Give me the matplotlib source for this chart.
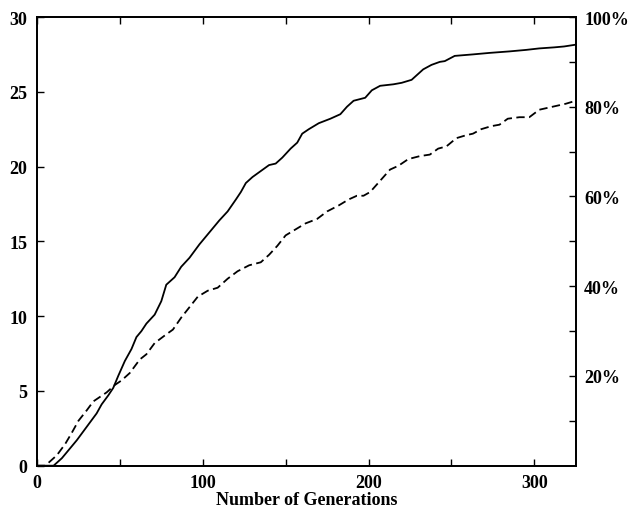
import matplotlib.pyplot as plt

plt.rcParams['font.family'] = ['Liberation Serif', 'DejaVu Serif']
plt.rcParams['font.weight'] = 'bold'
plt.rcParams['lines.scale_dashes'] = False

# solid curve
gen_solid = [0, 10, 12, 15, 18, 21, 24, 28, 32, 36, 39, 43, 46, 49, 53, 57, 60, 63, 66,
             71, 75, 78, 83, 87, 92, 98, 104, 110, 115, 120, 123, 126, 130, 135, 140, 144,
             148, 153, 157, 160, 164, 170, 177, 183, 187, 191, 198, 202, 207, 215, 220,
             226, 230, 233, 238, 243, 246, 252, 263, 273, 285, 295, 303, 312, 318, 325]
val_solid = [0, 0, 0.2, 0.5, 0.9, 1.3, 1.7, 2.3, 2.9, 3.5, 4.1, 4.7, 5.2, 6.0, 7.0, 7.8,
             8.6, 9.0, 9.5, 10.1, 11.0, 12.1, 12.6, 13.3, 13.9, 14.8, 15.6, 16.4, 17.0,
             17.8, 18.3, 18.9, 19.3, 19.7, 20.1, 20.2, 20.6, 21.2, 21.6, 22.2, 22.5, 22.9,
             23.2, 23.5, 24.0, 24.4, 24.6, 25.1, 25.4, 25.5, 25.6, 25.8, 26.2, 26.5, 26.8,
             27.0, 27.05, 27.4, 27.5, 27.6, 27.7, 27.8, 27.9, 27.97, 28.03, 28.15]

# dashed curve
gen_dashed = [0, 5, 8, 12, 17, 21, 25, 30, 34, 38, 42, 47, 51, 56, 62, 66, 71, 77, 82, 87,
              92, 97, 103, 109, 115, 121, 128, 135, 140, 145, 150, 156, 162, 169, 175, 182,
              188, 193, 197, 201, 205, 209, 213, 218, 224, 231, 237, 242, 247, 253, 259,
              263, 268, 274, 279, 284, 291, 297, 303, 311, 319, 325]
val_dashed = [0, 0, 0.3, 0.7, 1.45, 2.2, 3.0, 3.7, 4.3, 4.6, 4.9, 5.4, 5.7, 6.2, 7.1, 7.45,
              8.2, 8.7, 9.1, 9.9, 10.6, 11.3, 11.7, 11.9, 12.5, 13.0, 13.4, 13.6, 14.1, 14.7,
              15.4, 15.8, 16.2, 16.5, 17.0, 17.4, 17.8, 18.05, 18.05, 18.3, 18.8, 19.3, 19.8,
              20.05, 20.5, 20.7, 20.8, 21.2, 21.35, 21.9, 22.1, 22.2, 22.5, 22.7, 22.8, 23.2,
              23.3, 23.3, 23.8, 24.0, 24.2, 24.4]

FS = 13

fig = plt.figure(figsize=(6.29, 5.10), dpi=100)
ax = fig.add_axes([0.0588, 0.0849, 0.8565, 0.8798])

ax.plot(gen_solid, val_solid, color='black', lw=1.3)
ax.plot(gen_dashed, val_dashed, color='black', lw=1.3, linestyle=(0, (6, 3.2)))

ax.set_xlim(0, 325)
ax.set_ylim(0, 30)
ax.set_xticks([0, 100, 200, 300])
ax.set_xticks([50, 150, 250], minor=True)
ax.set_yticks(range(0, 31, 5))
ax.tick_params(axis='x', which='both', direction='in', top=True, length=5, width=1, pad=6,
               labelsize=FS)
ax.tick_params(axis='y', which='both', direction='in', right=False, length=5, width=1,
               pad=7, labelsize=FS)
ax.set_xlabel('Number of Generations', fontsize=FS, fontweight='bold', labelpad=0)

ax2 = ax.twinx()
ax2.set_ylim(0, 100)
ax2.set_yticks([20, 40, 60, 80, 100])
ax2.set_yticklabels(['20%', '40%', '60%', '80%', '100%'])
ax2.set_yticks([10, 30, 50, 70, 90], minor=True)
ax2.tick_params(axis='y', which='both', direction='in', length=5, width=1, pad=6,
                labelsize=FS)

for a in (ax, ax2):
    for s in a.spines.values():
        s.set_linewidth(1.3)

fig.savefig('out.png', dpi=100)
